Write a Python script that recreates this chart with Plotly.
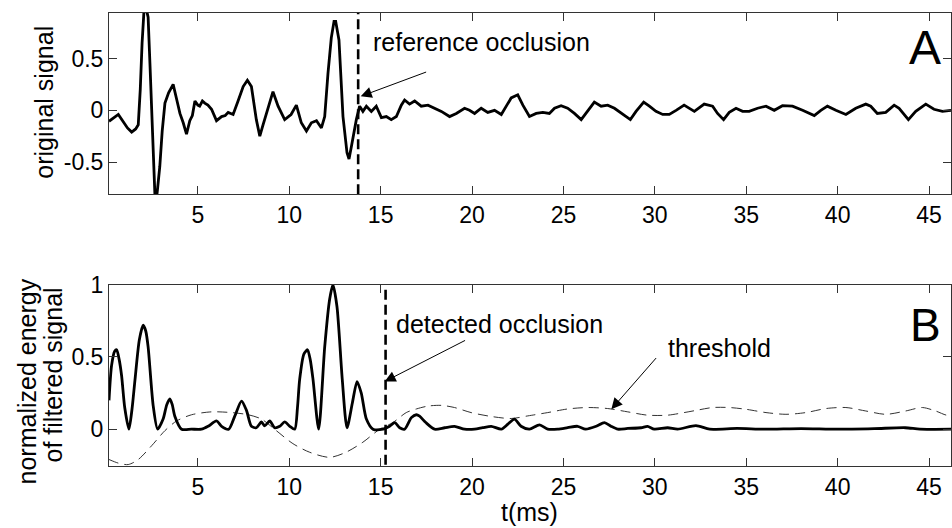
import plotly.graph_objects as go

# ---------------- data ----------------
sig_t = [0.14, 0.4, 0.65, 0.92, 1.15, 1.38, 1.6, 1.74, 1.85, 1.95, 2.05, 2.15, 2.28, 2.38, 2.47,
         2.58, 2.68, 2.8, 2.92, 3.05, 3.2, 3.4, 3.65, 3.85, 4.02, 4.2, 4.38, 4.56, 4.7, 4.84,
         5.0, 5.1, 5.25, 5.38, 5.55, 5.75, 6.02, 6.3, 6.5, 6.66, 6.93, 7.2, 7.48, 7.71, 7.93,
         8.2, 8.39, 8.55, 8.75, 9.11, 9.39, 9.75, 10.1, 10.39, 10.66, 10.94, 11.21, 11.49, 11.76,
         11.94, 12.12, 12.3, 12.45, 12.54, 12.72, 12.94, 13.16, 13.27, 13.4, 13.67, 13.85, 14.03,
         14.22, 14.49, 14.76, 15.04, 15.31, 15.58, 15.86, 16.13, 16.31, 16.58, 16.86, 17.22,
         17.59, 17.95, 18.32, 18.77, 19.14, 19.59, 19.86, 20.14, 20.5, 20.86, 21.23, 21.6, 21.87,
         22.14, 22.5, 22.78, 23.14, 23.51, 23.87, 24.23, 24.51, 24.87, 25.23, 25.6, 25.97, 26.33,
         26.69, 27.06, 27.42, 27.79, 28.24, 28.66, 28.97, 29.39, 29.7, 30.06, 30.43, 30.79, 31.16,
         31.6, 32.16, 32.7, 33.16, 33.43, 33.76, 34.07, 34.44, 34.8, 35.16, 35.62, 36.08, 36.53,
         36.98, 37.53, 38.08, 38.72, 39.08, 39.44, 39.9, 40.45, 40.99, 41.54, 41.81, 42.17, 42.63,
         43.09, 43.36, 43.87, 44.27, 44.82, 45.27, 45.73, 46.2]
sig_v = [-0.106, -0.07, -0.04, -0.11, -0.17, -0.21, -0.18, -0.14, 0.2, 0.65, 0.95, 1.0, 0.9, 0.45, 0.04,
         -0.5, -0.95, -0.75, -0.54, -0.2, 0.07, 0.17, 0.25, 0.1, -0.03, -0.12, -0.23, -0.1, -0.05, 0.09,
         0.05, 0.04, 0.09, 0.07, 0.05, 0.01, -0.1, -0.06, -0.05, -0.02, -0.04, 0.09, 0.23, 0.29, 0.23,
         -0.09, -0.25, -0.15, -0.03, 0.18, 0.04, -0.09, -0.04, 0.05, -0.12, -0.2, -0.12, -0.1, -0.17,
         -0.06, 0.36, 0.7, 0.86, 0.86, 0.68, -0.06, -0.41, -0.47, -0.35, -0.09, 0.04, -0.01,
         0.04, -0.01, 0.04, -0.07, -0.06, -0.09, -0.06, 0.05, 0.1, 0.06, 0.09, 0.04,
         0.05, 0.02, -0.01, -0.06, -0.03, 0.02, 0.0, -0.03, 0.02, -0.02, 0.0, -0.04, 0.04,
         0.12, 0.15, 0.05, -0.06, -0.03, -0.02, -0.03, 0.02, 0.045, 0.02, -0.03, -0.09, 0.0,
         0.08, 0.04, 0.05, 0.02, -0.04, -0.09, -0.01, 0.08, 0.04, -0.01, -0.04, -0.04, 0.0,
         0.05, -0.01, 0.06, 0.04, -0.03, -0.09, -0.02, 0.02, -0.01, -0.01, 0.02, 0.04, 0.0,
         0.045, 0.04, 0.0, -0.05, 0.0, 0.04, 0.0, -0.04, 0.02, 0.06, 0.04, -0.03, -0.02,
         0.05, 0.02, -0.09, -0.01, 0.06, 0.01, -0.01, 0.0]

en_t = [0.14, 0.28, 0.45, 0.56, 0.7, 0.83, 1.0, 1.23, 1.4, 1.56, 1.8, 2.01, 2.15, 2.28, 2.56, 2.8,
        3.1, 3.3, 3.47, 3.6, 3.74, 4.11, 4.65, 5.2, 5.56, 6.02, 6.3, 6.69, 7.02, 7.39, 7.66, 7.93,
        8.2, 8.48, 8.66, 8.93, 9.2, 9.48, 9.75, 10.03, 10.3, 10.45, 10.57, 10.8, 11.0, 11.15, 11.3,
        11.61, 11.94, 12.21, 12.39, 12.61, 12.9, 13.16, 13.45, 13.71, 13.94, 14.22, 14.58, 15.13,
        15.49, 15.77, 16.04, 16.31, 16.68, 16.95, 17.13, 17.47, 17.95, 18.5, 19.04, 19.59, 20.14,
        20.58, 21.05, 21.6, 21.96, 22.32, 22.68, 23.14, 23.69, 24.14, 24.69, 25.23, 25.77, 26.21,
        26.79, 27.24, 27.6, 27.97, 28.52, 29.25, 29.6, 29.97, 30.7, 31.25, 32.25, 33.0, 34.5,
        36.0, 38.0, 40.0, 42.0, 43.7, 44.5, 46.2]
en_v = [0.2, 0.44, 0.54, 0.55, 0.48, 0.37, 0.15, 0.0, 0.14, 0.34, 0.62, 0.72, 0.68, 0.57, 0.16, 0.0,
        0.07, 0.17, 0.21, 0.17, 0.09, 0.0, 0.0, 0.0, 0.02, 0.057, 0.02, 0.0, 0.09, 0.195, 0.13, 0.02,
        0.01, 0.05, 0.023, 0.057, 0.01, 0.02, 0.05, 0.02, 0.0, 0.15, 0.345, 0.52, 0.55, 0.48, 0.345,
        0.0, 0.57, 0.9, 1.0, 0.85, 0.345, 0.01, 0.18, 0.33, 0.25, 0.07, 0.0, 0.0,
        0.02, 0.045, 0.01, 0.0, 0.08, 0.1, 0.09, 0.046, 0.0, 0.01, 0.02, 0.0, 0.0,
        0.01, 0.02, 0.0, 0.035, 0.07, 0.02, 0.0, 0.03, 0.0, 0.0, 0.01, 0.02, 0.0,
        0.02, 0.046, 0.02, 0.0, 0.005, 0.01, 0.02, 0.0, 0.01, 0.0, 0.025, 0.0, 0.005,
        0.0, 0.004, 0.0, 0.004, 0.01, 0.0, 0.0]

th_t = [0.14, 0.65, 1.19, 1.74, 2.47, 3.2, 3.84, 4.66, 5.75, 6.84, 7.75, 8.48, 9.29, 10.2, 11.12,
        12.21, 13.1, 14.03, 14.95, 15.67, 16.4, 16.95, 17.59, 18.32, 19.04, 19.95, 21.05, 22.14,
        23.05, 24.14, 25.23, 26.33, 27.42, 28.52, 29.6, 30.7, 31.6, 32.25, 33.16, 34.07, 34.98,
        36.08, 37.17, 38.26, 39.36, 40.45, 41.54, 42.63, 43.72, 44.63, 45.36, 45.99, 46.2]
th_v = [-0.21, -0.235, -0.245, -0.21, -0.115, -0.01, 0.057, 0.1, 0.12, 0.115, 0.1, 0.07, -0.01, -0.1, -0.16,
        -0.195, -0.16, -0.09, 0.0, 0.046, 0.115, 0.14, 0.16, 0.165, 0.15, 0.115, 0.088, 0.074,
        0.092, 0.115, 0.14, 0.15, 0.143, 0.12, 0.097, 0.097, 0.115, 0.13, 0.15, 0.15, 0.138,
        0.115, 0.103, 0.115, 0.143, 0.15, 0.126, 0.103, 0.126, 0.15, 0.126, 0.097, 0.11]

ref_occlusion_t = 13.77
det_occlusion_t = 15.27

x_ticks = [5, 10, 15, 20, 25, 30, 35, 40, 45]
top_yticks = [-0.5, 0, 0.5]
top_yticklabels = ["-0.5", "0", "0.5"]
bot_yticks = [0, 0.5, 1]
bot_yticklabels = ["0", "0.5", "1"]

# ---------------- figure ----------------
FONT = "Liberation Sans, Arial, sans-serif"
W, H = 952, 528
ML, MR, MT, MB = 109, 0, 11, 62
PW = W - ML - MR
PH = H - MT - MB

fig = go.Figure()
fig.add_trace(go.Scatter(x=sig_t, y=sig_v, mode="lines", xaxis="x", yaxis="y",
                         line=dict(color="black", width=2.8), showlegend=False))
fig.add_trace(go.Scatter(x=[ref_occlusion_t, ref_occlusion_t], y=[-0.81, 0.94], mode="lines",
                         xaxis="x", yaxis="y", showlegend=False,
                         line=dict(color="black", width=2.6, dash="10px,5px")))
fig.add_trace(go.Scatter(x=th_t, y=th_v, mode="lines", xaxis="x2", yaxis="y2", showlegend=False,
                         line=dict(color="#333333", width=1, dash="10px,6px", shape="spline", smoothing=0.8)))
fig.add_trace(go.Scatter(x=en_t, y=en_v, mode="lines", xaxis="x2", yaxis="y2", showlegend=False,
                         line=dict(color="black", width=2.8, shape="spline", smoothing=0.7)))
fig.add_trace(go.Scatter(x=[det_occlusion_t, det_occlusion_t], y=[0.965, -0.26], mode="lines",
                         xaxis="x2", yaxis="y2", showlegend=False,
                         line=dict(color="black", width=2.6, dash="10px,5px")))

axis_common = dict(showgrid=False, zeroline=False, showline=True, mirror="ticks",
                   linecolor="#333333", linewidth=1, ticks="inside", ticklen=8,
                   tickcolor="#333333", tickwidth=1,
                   tickfont=dict(family=FONT, size=23, color="black"))
xr = [0.14, 46.2]
fig.update_layout(
    width=W, height=H, margin=dict(l=ML, r=MR, t=MT, b=MB),
    paper_bgcolor="white", plot_bgcolor="white",
    xaxis=dict(domain=[0, 1], anchor="y", range=xr, tickvals=x_ticks, **axis_common),
    yaxis=dict(domain=[(466 - 193) / PH, 1], anchor="x", range=[-0.81, 0.94],
               tickvals=top_yticks, ticktext=top_yticklabels, **axis_common),
    xaxis2=dict(domain=[0, 1], anchor="y2", range=xr, tickvals=x_ticks, **axis_common),
    yaxis2=dict(domain=[0, (466 - 284) / PH], anchor="x2", range=[-0.255, 1.0],
                tickvals=bot_yticks, ticktext=bot_yticklabels, **axis_common),
)

def px_to_paper_x(px):
    return (px - ML) / PW

def py_to_paper_y(py):
    return (H - MB - py) / PH

ann = []
# axis titles
ann.append(dict(text="original signal", xref="paper", yref="paper", x=px_to_paper_x(44), y=py_to_paper_y(101),
                textangle=-90, showarrow=False, font=dict(family=FONT, size=25, color="black"),
                xanchor="center", yanchor="middle"))
ann.append(dict(text="normalized energy", xref="paper", yref="paper", x=px_to_paper_x(27), y=py_to_paper_y(381),
                textangle=-90, showarrow=False, font=dict(family=FONT, size=25, color="black"),
                xanchor="center", yanchor="middle"))
ann.append(dict(text="of filtered signal", xref="paper", yref="paper", x=px_to_paper_x(53), y=py_to_paper_y(375),
                textangle=-90, showarrow=False, font=dict(family=FONT, size=25, color="black"),
                xanchor="center", yanchor="middle"))
ann.append(dict(text="t(ms)", xref="paper", yref="paper", x=px_to_paper_x(530), y=py_to_paper_y(512),
                showarrow=False, font=dict(family=FONT, size=25, color="black"),
                xanchor="center", yanchor="middle"))
# panel letters
ann.append(dict(text="A", xref="x", yref="y", x=44.78, y=0.61, showarrow=False,
                font=dict(family=FONT, size=48, color="black"), xanchor="center", yanchor="middle"))
ann.append(dict(text="B", xref="x2", yref="y2", x=44.83, y=0.724, showarrow=False,
                font=dict(family=FONT, size=46, color="black"), xanchor="center", yanchor="middle"))
# labels
ann.append(dict(text="reference occlusion", xref="x", yref="y", x=14.45, y=0.663, showarrow=False,
                font=dict(family=FONT, size=25, color="black"), xanchor="left", yanchor="middle"))
ann.append(dict(text="detected occlusion", xref="x2", yref="y2", x=15.72, y=0.731, showarrow=False,
                font=dict(family=FONT, size=25, color="black"), xanchor="left", yanchor="middle"))
ann.append(dict(text="threshold", xref="x2", yref="y2", x=30.62, y=0.559, showarrow=False,
                font=dict(family=FONT, size=25, color="black"), xanchor="left", yanchor="middle"))
# arrows
arrow_style = dict(text="", showarrow=True, arrowhead=2, arrowsize=2.2, arrowwidth=1, arrowcolor="black")
ann.append(dict(xref="x", yref="y", axref="x", ayref="y", x=13.91, y=0.135, ax=17.57, ay=0.375, **arrow_style))
ann.append(dict(xref="x2", yref="y2", axref="x2", ayref="y2", x=15.22, y=0.33, ax=19.7, ay=0.62, **arrow_style))
ann.append(dict(xref="x2", yref="y2", axref="x2", ayref="y2", x=27.62, y=0.138, ax=30.14, ay=0.503, **arrow_style))
fig.update_layout(annotations=ann)

fig.write_html("out.html", config={"displayModeBar": False},
               post_script="document.body.style.margin='0px';document.body.style.overflow='hidden';")
